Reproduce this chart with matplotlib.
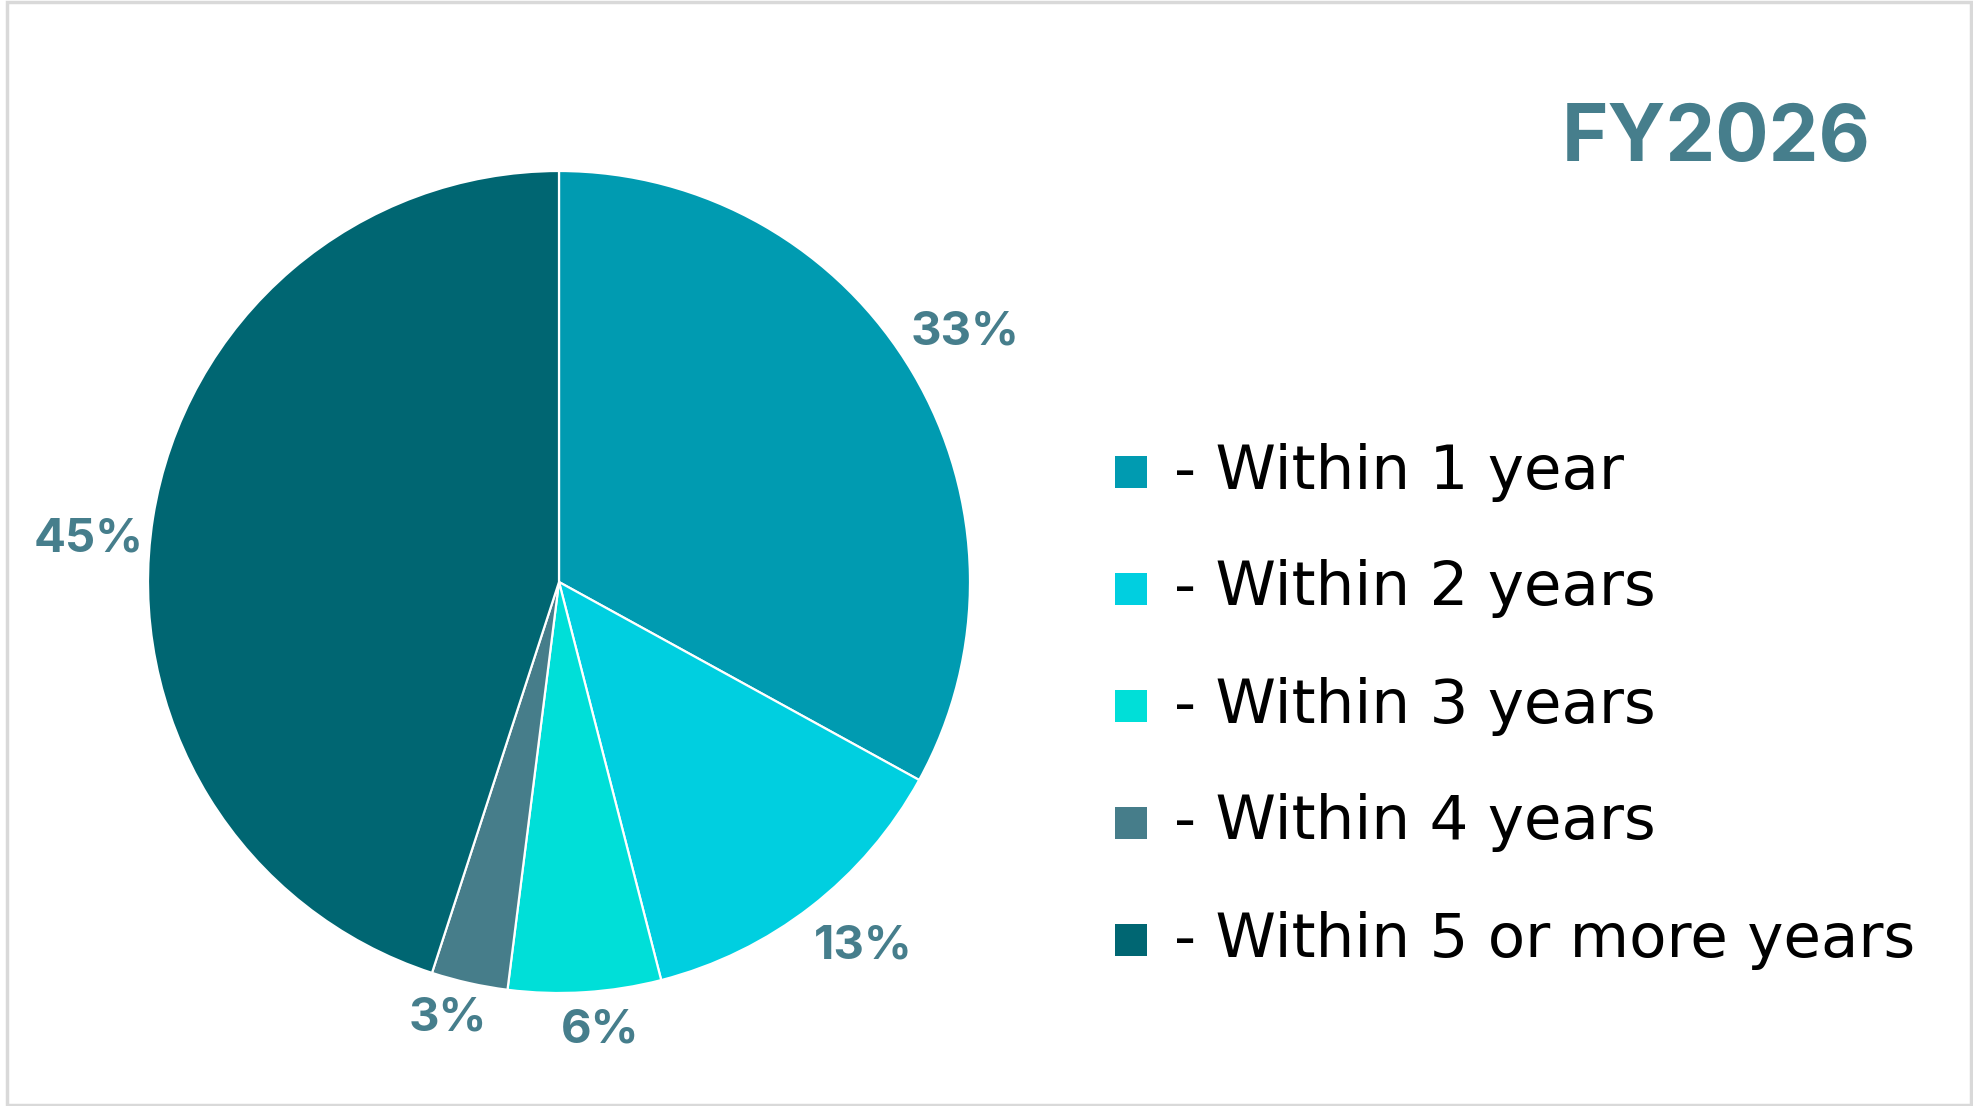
import matplotlib
matplotlib.use("Agg")
import matplotlib.pyplot as plt
import numpy as np
from matplotlib.patches import Rectangle

# Maturity profile data
categories = ["- Within 1 year", "- Within 2 years", "- Within 3 years",
              "- Within 4 years", "- Within 5 or more years"]
shares = [33, 13, 6, 3, 45]
slice_colors = ["#009BB1", "#00CFE0", "#00DFD8", "#467D8A", "#006672"]
title_text = "FY2026"

W, H = 1973, 1106
fig = plt.figure(figsize=(W / 100, H / 100), dpi=100)
fig.patch.set_facecolor("white")

# Light grey frame around the slide
fig.add_artist(Rectangle((7 / W, 1.5 / H), (W - 9) / W, (H - 3) / H,
                         transform=fig.transFigure, fill=False,
                         edgecolor="#D9D9D9", linewidth=2.5))

# Pie axes
cx, cy, r = 559, 582, 411
ax = fig.add_axes([(cx - r) / W, (H - cy - r) / H, 2 * r / W, 2 * r / H])
wedges, _ = ax.pie(shares, colors=slice_colors, startangle=90,
                   counterclock=False, radius=1,
                   wedgeprops=dict(edgecolor="white", linewidth=1.6))
ax.set_xlim(-1, 1)
ax.set_ylim(-1, 1)
ax.set_aspect("equal")
ax.axis("off")

# Percentage labels outside each slice
label_dist = [1.16, 1.155, 1.095, 1.095, 1.15]
label_nudge = [1.0, 2.0, 1.7, -1.7, 3.8]   # degrees
label_color = "#467E8C"
for w, v, d, n in zip(wedges, shares, label_dist, label_nudge):
    ang = np.deg2rad((w.theta1 + w.theta2) / 2 + n)
    ax.text(d * np.cos(ang), d * np.sin(ang), f"{v}%", ha="center",
            va="center", fontsize=34, fontweight="bold", color=label_color,
            family="Inter", clip_on=False)

# Title
fig.text(1716 / W, 1 - 140 / H, title_text, ha="center", va="center",
         fontsize=57, fontweight="bold", color=label_color, family="Inter")

# Legend
row_y = [472, 589, 706, 823, 940]
sq = 32
for name, col, y in zip(categories, slice_colors, row_y):
    fig.add_artist(Rectangle((1115 / W, (H - y - sq / 2) / H), sq / W, sq / H,
                             transform=fig.transFigure, facecolor=col,
                             edgecolor="none"))
    fig.text(1174 / W, 1 - y / H, name, ha="left", va="center",
             fontsize=44, color="black", family="DejaVu Sans")

fig.savefig("out.png", dpi=100, facecolor="white")
